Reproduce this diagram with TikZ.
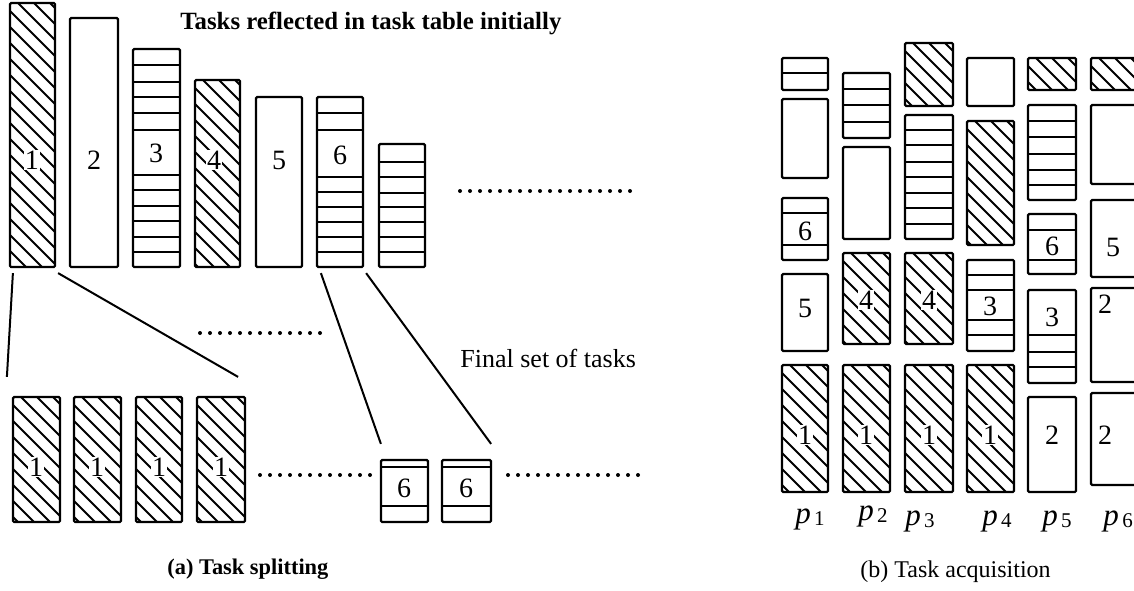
\documentclass[tikz,border=0pt]{standalone}
\usepackage{fontspec}
\setmainfont{Liberation Serif}
\usetikzlibrary{fit}
\tikzset{
  bx/.style={draw, line width=1.1pt, inner sep=0pt, rounded corners=0.6pt},
  hatchline/.style={line width=1pt},
  stripline/.style={line width=1pt},
  num/.style={font=\fontsize{14}{14}\selectfont, inner sep=0.6pt, fill=white},
  conn/.style={line width=1pt},
  dots/.style={line width=2pt, line cap=round, dash pattern=on 0pt off 5pt},
  plabel/.style={anchor=base west, inner sep=0pt},
  txt/.style={anchor=base west, inner sep=0pt},
}
\newcommand\hatchrect[5]{%
  \begin{scope}
    \clip (#2,#3) rectangle (#4,#5);
    \foreach \k in {0,...,24} {\draw[hatchline] ({#2-280+\k*16},#3) -- ++(320,320);}
  \end{scope}
  \node[bx, fit={(#2,#3) (#4,#5)}] (#1) {};}
\newcommand\striprect[6]{%
  \node[bx, fit={(#2,#3) (#4,#5)}] (#1) {};
  \foreach \yy in {#6} {\draw[stripline] (#2,\yy) -- (#4,\yy);}}
\newcommand\plainrect[5]{\node[bx, fit={(#2,#3) (#4,#5)}] (#1) {};}
\newcommand\plab[1]{{\fontsize{15.5}{15}\selectfont\itshape p}\,\raisebox{-0.3ex}{\fontsize{10.5}{10}\selectfont #1}}
\begin{document}
\begin{tikzpicture}[x=0.5pt,y=-0.5pt]
\useasboundingbox (0,0) rectangle (1134,590);
\clip (0,0) rectangle (1134,590);
% ---------- (a) top row ----------
\node[txt] (title) at (180,29) {\fontsize{12.4}{14}\selectfont\bfseries Tasks reflected in task table initially};
\hatchrect{b1}{10}{3}{55}{267}
\plainrect{b2}{70}{18}{118}{267}
\striprect{b3}{133}{49}{180}{267}{65,82,97,113,130,175,190,206,221,237,252}
\hatchrect{b4}{195}{80}{240}{267}
\plainrect{b5}{256}{97}{302}{267}
\striprect{b6}{317}{97}{363}{267}{113,130,177,192,207,222,237,252}
\striprect{b7}{379}{144}{425}{267}{162,177,193,207,222,237,252}
\node[num] (n1) at (32,160) {1};
\node[num] (n2) at (94,160) {2};
\node[num] (n3) at (156,153) {3};
\node[num] (n4) at (214,160) {4};
\node[num] (n5) at (279,160) {5};
\node[num] (n6) at (340,155) {6};
\draw[dots] (460,191) -- (630,191);
% ---------- (a) bottom row ----------
\hatchrect{c1}{13}{397}{60}{522}
\hatchrect{c2}{74}{397}{121}{522}
\hatchrect{c3}{136}{397}{182}{522}
\hatchrect{c4}{197}{397}{245}{522}
\node[num] (m1) at (36,467) {1};
\node[num] (m2) at (97,467) {1};
\node[num] (m3) at (159,467) {1};
\node[num] (m4) at (221,467) {1};
\striprect{s1}{381}{460}{428}{522}{467,506}
\striprect{s2}{442}{460}{491}{522}{467,506}
\node[num, fill=none] (m5) at (404,488) {6};
\node[num, fill=none] (m6) at (466,488) {6};
\draw[dots] (200,333) -- (327,333);
\draw[dots] (260,475) -- (373,475);
\draw[dots] (508,475) -- (647,475);
% connectors
\draw[conn] ([shift={(4,5)}]b1.south west) -- ([shift={(-5,-19)}]c1.north west);
\draw[conn] ([shift={(2,5)}]b1.south east) -- ([shift={(-8,-19)}]c4.north east);
\draw[conn] ([shift={(5,5)}]b6.south west) -- ([shift={(1,-15)}]s1.north west);
\draw[conn] ([shift={(2,5)}]b6.south east) -- ([shift={(-1,-15)}]s2.north east);
\node[txt] (final) at (460,367) {\fontsize{13}{14}\selectfont Final set of tasks};
\node[txt] (capa) at (167,574) {\fontsize{11.2}{13}\selectfont\bfseries (a) Task splitting};
% ---------- (b) ----------
% p1
\striprect{r11}{782}{58}{828}{90}{73}
\plainrect{r12}{782}{99}{828}{178}
\striprect{r13}{782}{198}{828}{260}{213,245}
\plainrect{r14}{782}{274}{828}{351}
\hatchrect{r15}{782}{365}{828}{492}
% p2
\striprect{r21}{843}{73}{890}{138}{89,105,122}
\plainrect{r22}{843}{147}{890}{239}
\hatchrect{r23}{843}{253}{890}{344}
\hatchrect{r24}{843}{365}{890}{492}
% p3
\hatchrect{r31}{905}{43}{953}{106}
\striprect{r32}{905}{115}{953}{239}{130,145,162,177,193,208,224}
\hatchrect{r33}{905}{253}{953}{344}
\hatchrect{r34}{905}{365}{953}{492}
% p4
\plainrect{r41}{967}{58}{1014}{106}
\hatchrect{r42}{967}{121}{1014}{245}
\striprect{r43}{967}{260}{1014}{351}{275,290,320,335}
\hatchrect{r44}{967}{365}{1014}{492}
% p5
\hatchrect{r51}{1028}{58}{1076}{90}
\striprect{r52}{1028}{105}{1076}{200}{121,137,154,170,185}
\striprect{r53}{1028}{214}{1076}{274}{230,260}
\striprect{r54}{1028}{290}{1076}{383}{335,352,367}
\plainrect{r55}{1028}{397}{1076}{492}
% p6
\hatchrect{r61}{1091}{58}{1140}{90}
\plainrect{r62}{1091}{105}{1140}{184}
\plainrect{r63}{1091}{200}{1140}{277}
\plainrect{r64}{1091}{288}{1140}{382}
\plainrect{r65}{1091}{393}{1140}{485}
% numbers (b)
\node[num, fill=none] (q1) at (805,231) {6};
\node[num] (q2) at (805,308) {5};
\node[num] (q3) at (866,300) {4};
\node[num] (q4) at (929,300) {4};
\node[num] (q5) at (805,435) {1};
\node[num] (q6) at (866,435) {1};
\node[num] (q7) at (929,435) {1};
\node[num] (q8) at (990,435) {1};
\node[num, fill=none] (q9) at (990,306) {3};
\node[num, fill=none] (q10) at (1052,246) {6};
\node[num] (q11) at (1052,317) {3};
\node[num] (q12) at (1052,435) {2};
\node[num] (q13) at (1113,247) {5};
\node[num] (q14) at (1105,304) {2};
\node[num] (q15) at (1105,435) {2};
% processor labels
\node[plabel] (p1) at (795,523) {\plab{1}};
\node[plabel] (p2) at (858,520) {\plab{2}};
\node[plabel] (p3) at (905,525) {\plab{3}};
\node[plabel] (p4) at (982,525) {\plab{4}};
\node[plabel] (p5) at (1042,525) {\plab{5}};
\node[plabel] (p6) at (1103,525) {\plab{6}};
\node[txt] (capb) at (860,577) {\fontsize{12}{14}\selectfont (b) Task acquisition};
\end{tikzpicture}
\end{document}
